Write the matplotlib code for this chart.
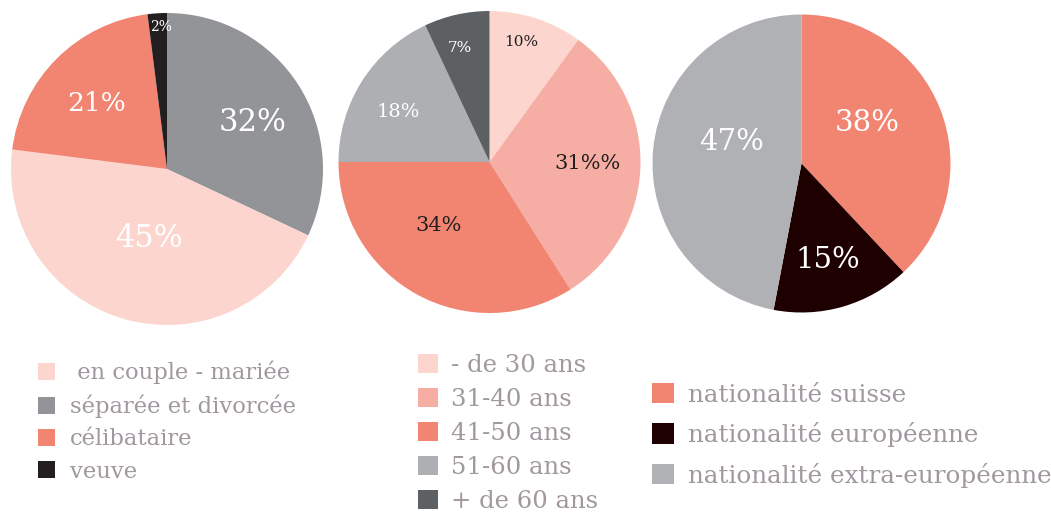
import numpy as np
import matplotlib
matplotlib.use("Agg")
import matplotlib.pyplot as plt

plt.rcParams['font.family'] = ['DejaVu Serif', 'DejaVu Sans']

W, H = 1051, 513

# ---- data ----
civil_labels = [" en couple - mariée", "séparée et divorcée", "célibataire", "veuve"]
civil_values = [45, 32, 21, 2]
civil_texts = ["45%", "32%", "21%", "2%"]
civil_colors = ["#fbd5ce", "#939498", "#f28472", "#231f20"]
civil_order = [1, 0, 2, 3]  # drawing order clockwise from top

age_labels = ["- de 30 ans", "31-40 ans", "41-50 ans", "51-60 ans", "+ de 60 ans"]
age_values = [10, 31, 34, 18, 7]
age_texts = ["10%", "31%%", "34%", "18%", "7%"]
age_colors = ["#fbd5ce", "#f6ada3", "#f28472", "#aeafb2", "#5d6062"]

nat_labels = ["nationalité suisse", "nationalité européenne", "nationalité extra-européenne"]
nat_values = [38, 15, 47]
nat_texts = ["38%", "15%", "47%"]
nat_colors = ["#f28472", "#1e0000", "#b0b1b4"]

legend_color = "#a0979f"

fig = plt.figure(figsize=(W / 100, H / 100), dpi=100)
ax = fig.add_axes([0, 0, 1, 1])
ax.axis('off')


def draw_pie(values, texts, colors, cx, cy, r, lab_r, lab_da, lab_col, lab_size):
    wedges, _ = ax.pie(values, colors=colors, startangle=90, counterclock=False,
                       center=(cx, H - cy), radius=r,
                       wedgeprops=dict(linewidth=0))
    for w, t, rr, da, c, s in zip(wedges, texts, lab_r, lab_da, lab_col, lab_size):
        mid = np.deg2rad((w.theta1 + w.theta2) / 2 + da)
        ax.text(w.center[0] + rr * r * np.cos(mid), w.center[1] + rr * r * np.sin(mid), t,
                ha='center', va='center', color=c, fontsize=s)
    return wedges


# pie 1 (clockwise from top: séparée, en couple, célibataire, veuve)
v1 = [civil_values[i] for i in civil_order]
t1 = [civil_texts[i] for i in civil_order]
c1 = [civil_colors[i] for i in civil_order]
w1 = draw_pie(v1, t1, c1, 167, 169, 156,
              [0.62, 0.46, 0.62, 0.91], [-4, 2, 2, -1],
              ['white'] * 4, [22, 22, 19, 10])
w1 = [w1[civil_order.index(i)] for i in range(4)]

w2 = draw_pie(age_values, age_texts, age_colors, 489.5, 162, 151,
              [0.82, 0.65, 0.54, 0.69, 0.78], [3, 1, -10, 4, 2],
              ['#231f20', '#231f20', '#231f20', 'white', 'white'], [11, 15, 15, 14, 11])

w3 = draw_pie(nat_values, nat_texts, nat_colors, 801.5, 163.5, 149,
              [0.52, 0.67, 0.49], [10, -1, -12],
              ['white'] * 3, [21, 21, 21])

ax.set_xlim(0, W)
ax.set_ylim(0, H)
ax.set_aspect('auto')


def add_legend(handles, labels, x, y, fs, hl, spacing, pad):
    leg = fig.legend(handles, labels, loc='upper left', bbox_to_anchor=(x / W, 1 - y / H),
                     frameon=False, fontsize=fs, handlelength=hl, handleheight=hl,
                     handletextpad=pad, labelspacing=spacing, borderpad=0, borderaxespad=0)
    for t in leg.get_texts():
        t.set_color(legend_color)
    return leg


add_legend(w1, civil_labels, 38, 361, 16.3, 0.74, 0.45, 0.68)
add_legend(w2, age_labels, 418, 354, 17.5, 0.82, 0.45, 0.53)
add_legend(w3, nat_labels, 652, 383, 17.7, 0.9, 0.63, 0.57)

fig.savefig("out.png", dpi=100)
